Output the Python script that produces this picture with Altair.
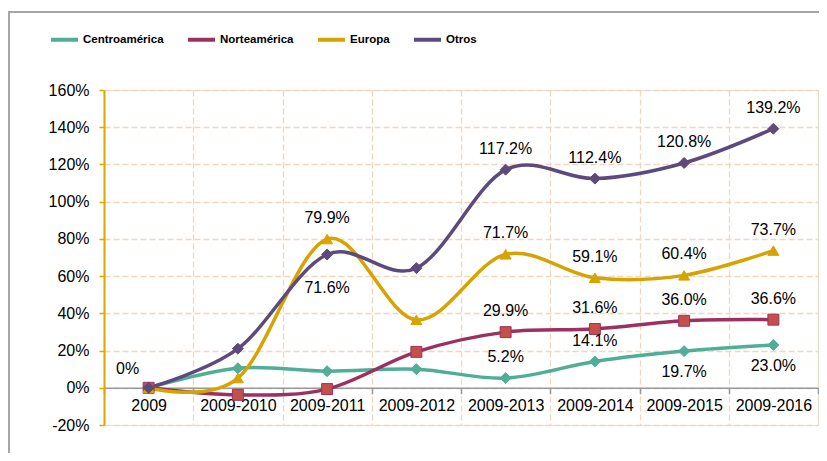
import altair as alt
import pandas as pd

categories = ["2009", "2009-2010", "2009-2011", "2009-2012",
              "2009-2013", "2009-2014", "2009-2015", "2009-2016"]
series_names = ["Centroamérica", "Norteamérica", "Europa", "Otros"]

centroamerica = [0, 10.5, 8.9, 10.0, 5.2, 14.1, 19.7, 23.0]
norteamerica = [0, -3.8, -0.7, 19.3, 29.9, 31.6, 36.0, 36.6]
europa = [0, 5.2, 79.9, 36.5, 71.7, 59.1, 60.4, 73.7]
otros = [0, 21.0, 71.6, 64.3, 117.2, 112.4, 120.8, 139.2]

line_colors = ["#4FAE95", "#9C305F", "#D6A300", "#5D4A7D"]
marker_fills = ["#4FAE95", "#C4504C", "#D6A300", "#5D4A7D"]
marker_shapes = ["diamond", "square", "triangle-up", "diamond"]

labels_above = {
    "Centroamérica": ["2009-2013", "2009-2014"],
    "Norteamérica": ["2009-2013", "2009-2014", "2009-2015", "2009-2016"],
    "Europa": ["2009-2011", "2009-2013", "2009-2014", "2009-2015", "2009-2016"],
    "Otros": ["2009-2013", "2009-2014", "2009-2015", "2009-2016"],
}
labels_below = {
    "Centroamérica": ["2009-2015", "2009-2016"],
}
labels_far_below = {
    "Otros": ["2009-2011"],
}
zero_label = "0%"

rows = []
for s, vals in zip(series_names, [centroamerica, norteamerica, europa, otros]):
    for c, v in zip(categories, vals):
        if c in labels_above.get(s, []):
            pos = "above"
        elif c in labels_below.get(s, []):
            pos = "below"
        elif c in labels_far_below.get(s, []):
            pos = "farbelow"
        else:
            pos = "none"
        rows.append({"cat": c, "series": s, "value": v, "pos": pos})
df = pd.DataFrame(rows)

W, H = 714, 335
ymin, ymax = -20, 160
FONT = "Liberation Sans"
GRID = "#F1D6BF"

x_enc = alt.X("cat:N", sort=categories,
              scale=alt.Scale(type="band", domain=categories, paddingInner=0, paddingOuter=0),
              bandPosition=0.5,
              axis=alt.Axis(title=None, tickBand="extent", grid=True, gridColor=GRID,
                            gridDash=[6, 3], gridWidth=1.3,
                            domainColor="#999999", domainWidth=1.5,
                            tickColor="#999999", tickSize=6, tickWidth=1.5,
                            labelFont=FONT, labelFontSize=16, labelColor="#000000",
                            labelPadding=4, labelAngle=0,
                            offset=-H * (0 - ymin) / (ymax - ymin)))
y_enc = alt.Y("value:Q",
              scale=alt.Scale(domain=[ymin, ymax], nice=False, zero=False),
              axis=alt.Axis(title=None, values=list(range(ymin, ymax + 1, 20)),
                            labelExpr="datum.value + '%'",
                            grid=True, gridColor=GRID, gridDash=[6, 3], gridWidth=1.3,
                            domainColor="#DDA600", domainWidth=2,
                            tickColor="#DDA600", tickSize=5, tickWidth=1.5,
                            labelFont=FONT, labelFontSize=16, labelColor="#000000",
                            labelPadding=10))

color_scale = alt.Scale(domain=series_names, range=line_colors)

base = alt.Chart(df)

lines = base.mark_line(interpolate="cardinal", strokeWidth=3.5).encode(
    x=x_enc, y=y_enc,
    color=alt.Color("series:N", scale=color_scale,
                    legend=alt.Legend(title=None, orient="none", legendX=-55, legendY=-66,
                                      direction="horizontal", symbolType="stroke",
                                      symbolSize=729, symbolStrokeWidth=4,
                                      labelFont=FONT, labelFontSize=11.5,
                                      labelFontWeight="bold", labelColor="#000000",
                                      labelOffset=3, columnPadding=16)),
)

point_layers = []
for s, shp, fc, sc in zip(series_names, marker_shapes, marker_fills, line_colors):
    point_layers.append(
        base.mark_point(filled=True, size=120, strokeWidth=1, opacity=1,
                        shape=shp, fill=fc, stroke=sc)
        .encode(x=x_enc, y=y_enc)
        .transform_filter(alt.datum.series == s)
    )

txt = dict(font=FONT, fontSize=16, color="#000000")
fmt = "format(datum.value, '.1f') + '%'"
above = base.mark_text(dy=-21, **txt).encode(
    x=x_enc, y=y_enc, text="label:N"
).transform_filter("datum.pos == 'above'").transform_calculate(label=fmt)
below = base.mark_text(dy=21, **txt).encode(
    x=x_enc, y=y_enc, text="label:N"
).transform_filter("datum.pos == 'below'").transform_calculate(label=fmt)
farbelow = base.mark_text(dy=33, **txt).encode(
    x=x_enc, y=y_enc, text="label:N"
).transform_filter("datum.pos == 'farbelow'").transform_calculate(label=fmt)
zero = base.mark_text(dx=-21, dy=-19, **txt).encode(
    x=x_enc, y=y_enc, text=alt.value(zero_label)
).transform_filter(f"datum.cat == '{categories[0]}' && datum.series == '{series_names[-1]}'")

frame = alt.Chart(alt.Data(values=[{}])).mark_rect(
    fillOpacity=0, stroke="#A6A6A6", strokeWidth=2, clip=False
).encode(x=alt.value(-95), x2=alt.value(3000), y=alt.value(-78), y2=alt.value(3000))

chart = alt.layer(frame, lines, *point_layers, above, below, farbelow, zero).properties(
    width=W, height=H,
    autosize=alt.AutoSizeParams(type="none"),
    padding={"left": 96, "top": 82, "right": 1, "bottom": 28},
).configure_view(stroke=GRID, strokeDash=[6, 3], strokeWidth=1.3).configure(background="white")

chart.save("out.html", embed_options={"renderer": "svg", "actions": False})
